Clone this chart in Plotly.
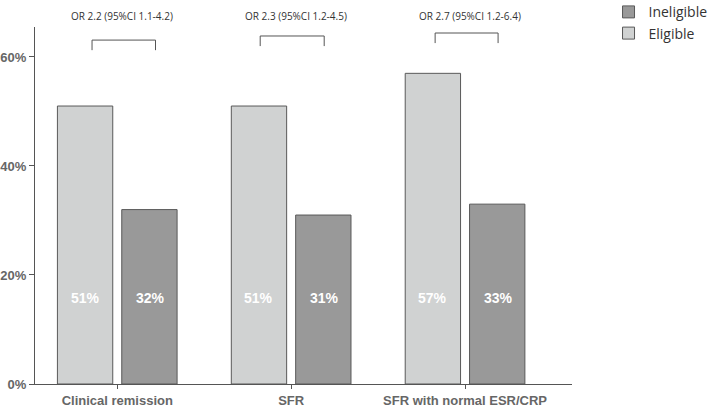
import plotly.graph_objects as go

# data
categories = ["Clinical remission", "SFR", "SFR with normal ESR/CRP"]
eligible = [51, 51, 57]
ineligible = [32, 31, 33]
odds_labels = ["OR 2.2 (95%CI 1.1-4.2)", "OR 2.3 (95%CI 1.2-4.5)", "OR 2.7 (95%CI 1.2-6.4)"]
y_ticks = [0, 20, 40, 60]

LIGHT = "#d0d2d2"
DARK = "#999999"
EDGE = "#595959"

fig = go.Figure()
fig.add_trace(go.Bar(
    x=categories, y=eligible, name="Eligible",
    marker=dict(color=LIGHT, line=dict(color=EDGE, width=1)),
    hoverinfo="y",
))
fig.add_trace(go.Bar(
    x=categories, y=ineligible, name="Ineligible",
    marker=dict(color=DARK, line=dict(color=EDGE, width=1)),
    hoverinfo="y",
))

# value labels inside bars
for i, (e, n) in enumerate(zip(eligible, ineligible)):
    for off, val in ((-0.185, e), (0.19, n)):
        fig.add_annotation(
            x=i + off, y=15.8, text=f"{val}%", showarrow=False,
            font=dict(family="Liberation Sans, Arial", size=14, color="white", weight="bold"),
        )

# odds-ratio brackets
bracket_spans = [(-0.145, 0.22, 63.1), (-0.178, 0.19, 63.85), (-0.172, 0.19, 64.4)]
for i, ((x0, x1, ytop), label) in enumerate(zip(bracket_spans, odds_labels)):
    fig.add_shape(
        type="path",
        path=f"M {i + x0} {ytop - 1.85} L {i + x0} {ytop} L {i + x1} {ytop} L {i + x1} {ytop - 1.85}",
        xref="x", yref="y", line=dict(color="#555555", width=1),
    )
    fig.add_annotation(
        x=i + 0.03, y=1.031, xref="x", yref="paper", yanchor="middle",
        text=label, showarrow=False,
        font=dict(family="Open Sans, Liberation Sans", size=10, color="#333333"),
    )

fig.update_layout(
    width=709, height=409,
    margin=dict(l=35, r=137, t=27, b=25, autoexpand=False),
    plot_bgcolor="white", paper_bgcolor="white",
    barmode="group", bargap=0.26, bargroupgap=0.14,
    legend=dict(
        x=1.068, y=1.086, xanchor="left", yanchor="top",
        traceorder="reversed",
        font=dict(family="Open Sans, Liberation Sans", size=14, color="#333333"),
        itemwidth=30, tracegroupgap=4,
    ),
    xaxis=dict(
        range=[-0.473, 2.615],
        showline=True, linecolor="#555555", linewidth=1,
        ticks="outside", ticklen=4, tickcolor="#555555",
        tickfont=dict(family="Liberation Sans, Arial", size=13, color="#666666", weight="bold"),
        showgrid=False,
    ),
    yaxis=dict(
        range=[0, 65.5],
        tickvals=y_ticks, ticktext=[f"{v}%" for v in y_ticks],
        showline=True, linecolor="#555555", linewidth=1,
        ticks="outside", ticklen=5, tickcolor="#555555",
        tickfont=dict(family="Liberation Sans, Arial", size=13, color="#666666", weight="bold"),
        showgrid=False, zeroline=False,
    ),
)

# drop the default page margin so the figure sits at the window's corner
fig.write_html(
    "out.html",
    config={"displayModeBar": False},
    post_script="document.body.style.margin='0';",
)
